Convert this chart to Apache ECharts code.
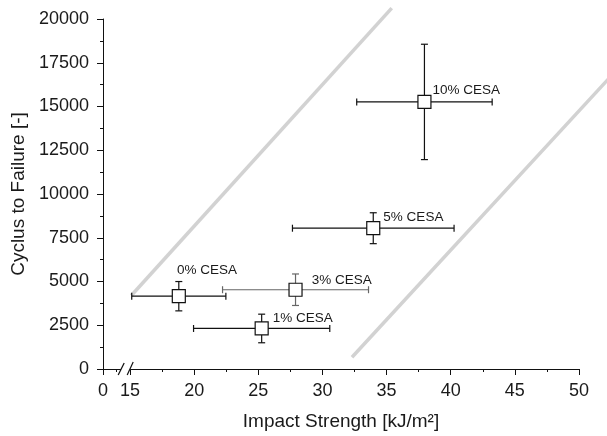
<!DOCTYPE html>
<html><head><meta charset="utf-8">
<script src="https://cdn.jsdelivr.net/npm/echarts@6/dist/echarts.min.js"></script>
<style>html,body{margin:0;padding:0;background:#fff}#c{width:607px;height:436px}</style>
</head><body><div id="c"></div>
<script>
// ---- data ----
const labels = ['0% CESA', '1% CESA', '3% CESA', '5% CESA', '10% CESA'];
const impact = [18.8, 25.26, 27.9, 33.96, 37.95];
const impactErr = [3.67, 5.31, 5.69, 6.3, 5.28];
const cycles = [4160, 2316, 4530, 8045, 15262];
const cyclesErr = [838, 817, 900, 883, 3296];
const guideA = [15.1, 4200, 35.4, 20620];
const guideB = [32.3, 670, 52.3, 16580];
const xTickValues = [0, 15, 20, 25, 30, 35, 40, 45, 50];
const xTickLabels = ['0', '15', '20', '25', '30', '35', '40', '45', '50'];
const xMinorTicks = [7.5, 17.5, 22.5, 27.5, 32.5, 37.5, 42.5, 47.5];
const yTicks = [0, 2500, 5000, 7500, 10000, 12500, 15000, 17500, 20000];

// ---- broken axis mapping: real 0 shown at axis min ----
const AXIS_MIN = 12.89, AXIS_MAX = 50;
const mapX = v => (v < 15 ? AXIS_MIN + (v / 15) * (15 - AXIS_MIN) : v);
const FONT = 'Liberation Sans, Arial, sans-serif';

const errColors = ['#111', '#111', '#666', '#111', '#111'];
const labelOffsets = [[-14, -26], [-1, -10], [4, -9], [-2, -11], [-4, -12]];

const errData = labels.map((l, i) => [impact[i], cycles[i], impact[i] - impactErr[i], impact[i] + impactErr[i], cycles[i] - cyclesErr[i], cycles[i] + cyclesErr[i], i]);

const chart = echarts.init(document.getElementById('c'), null, {renderer: 'canvas'});
const option = {
  animation: false,
  backgroundColor: '#fff',
  grid: {left: 103, right: 28, top: 19, bottom: 66},
  xAxis: [{
    type: 'value', min: AXIS_MIN, max: AXIS_MAX, position: 'bottom',
    name: 'Impact Strength [kJ/m²]', nameLocation: 'middle', nameGap: 43,
    nameTextStyle: {fontFamily: FONT, fontSize: 19, color: '#1a1a1a'},
    axisLine: {show: true, lineStyle: {color: '#111', width: 1}},
    axisTick: {show: true, length: 6, customValues: xTickValues.map(mapX), lineStyle: {color: '#111'}},
    axisLabel: {customValues: xTickValues.map(mapX), fontFamily: FONT, fontSize: 18, color: '#1a1a1a', margin: 13,
      formatter: v => { const i = xTickValues.map(mapX).findIndex(t => Math.abs(t - v) < 1e-6); return i >= 0 ? xTickLabels[i] : ''; }},
    splitLine: {show: false}
  }, {
    type: 'value', min: AXIS_MIN, max: AXIS_MAX, position: 'bottom', gridIndex: 0,
    axisLine: {show: false},
    axisTick: {show: true, length: 3, customValues: xMinorTicks.map(mapX), lineStyle: {color: '#111'}},
    axisLabel: {show: false, customValues: xMinorTicks.map(mapX)},
    splitLine: {show: false}
  }],
  yAxis: {
    type: 'value', min: 0, max: 20000, interval: 2500,
    name: 'Cyclus to Failure [-]', nameLocation: 'middle', nameGap: 73,
    nameTextStyle: {fontFamily: FONT, fontSize: 19, color: '#1a1a1a'},
    axisLine: {show: true, lineStyle: {color: '#111', width: 1}},
    axisTick: {show: true, length: 6, lineStyle: {color: '#111'}},
    minorTick: {show: true, splitNumber: 2, length: 3, lineStyle: {color: '#111'}},
    axisLabel: {fontFamily: FONT, fontSize: 18, color: '#1a1a1a', margin: 14, formatter: v => yTicks.includes(v) ? String(v) : ''},
    splitLine: {show: false}
  },
  series: [
    {type: 'custom', data: [guideA, guideB], z: 1, clip: false, silent: true,
     encode: {x: [0, 2], y: [1, 3]},
     renderItem: (params, api) => {
       const p1 = api.coord([api.value(0), api.value(1)]);
       const p2 = api.coord([api.value(2), api.value(3)]);
       return {type: 'line', shape: {x1: p1[0], y1: p1[1], x2: p2[0], y2: p2[1]},
         style: {stroke: '#d2d2d2', lineWidth: 3.5}};
     }},
    {type: 'custom', data: errData, z: 2, clip: false,
     encode: {x: 0, y: 1},
     renderItem: (params, api) => {
       const c = api.coord([api.value(0), api.value(1)]);
       const l = api.coord([api.value(2), api.value(1)]);
       const r = api.coord([api.value(3), api.value(1)]);
       const b = api.coord([api.value(0), api.value(4)]);
       const t = api.coord([api.value(0), api.value(5)]);
       const col = errColors[api.value(6)];
       const st = {stroke: col, lineWidth: 1.2};
       const cx = 3.5, cy = 3.5;
       return {type: 'group', children: [
         {type: 'line', shape: {x1: l[0], y1: l[1], x2: r[0], y2: r[1]}, style: st},
         {type: 'line', shape: {x1: l[0], y1: l[1] - cy, x2: l[0], y2: l[1] + cy}, style: st},
         {type: 'line', shape: {x1: r[0], y1: r[1] - cy, x2: r[0], y2: r[1] + cy}, style: st},
         {type: 'line', shape: {x1: c[0], y1: b[1], x2: c[0], y2: t[1]}, style: st},
         {type: 'line', shape: {x1: c[0] - cx, y1: b[1], x2: c[0] + cx, y2: b[1]}, style: st},
         {type: 'line', shape: {x1: c[0] - cx, y1: t[1], x2: c[0] + cx, y2: t[1]}, style: st}
       ]};
     }},
    {type: 'scatter', z: 3, symbol: 'rect', symbolSize: 13,
     itemStyle: {color: '#fff', borderColor: '#111', borderWidth: 1.2, opacity: 1},
     data: labels.map((l, i) => ({
       value: [impact[i], cycles[i]], name: l,
       label: {show: true, position: 'right', distance: 5, offset: labelOffsets[i],
         formatter: l, fontFamily: FONT, fontSize: 13.5, color: '#1a1a1a', opacity: 1}
     }))}
  ]
};
chart.setOption(option);

// axis break marks, placed through the axis scales
const breakVal = 14.62;
const bx = chart.convertToPixel({xAxisIndex: 0}, breakVal);
const by = chart.convertToPixel({yAxisIndex: 0}, 0);
const sl = {stroke: '#111', lineWidth: 1.2};
chart.setOption({graphic: [
  {type: 'polygon', shape: {points: [[bx - 7, by + 6], [bx - 1, by - 6], [bx + 8, by - 6], [bx + 2, by + 6]]}, style: {fill: '#fff'}, z: 10},
  {type: 'line', shape: {x1: bx - 7, y1: by + 6, x2: bx - 1, y2: by - 6}, style: sl, z: 11},
  {type: 'line', shape: {x1: bx + 2, y1: by + 6, x2: bx + 8, y2: by - 7}, style: sl, z: 11}
]});
</script></body></html>
